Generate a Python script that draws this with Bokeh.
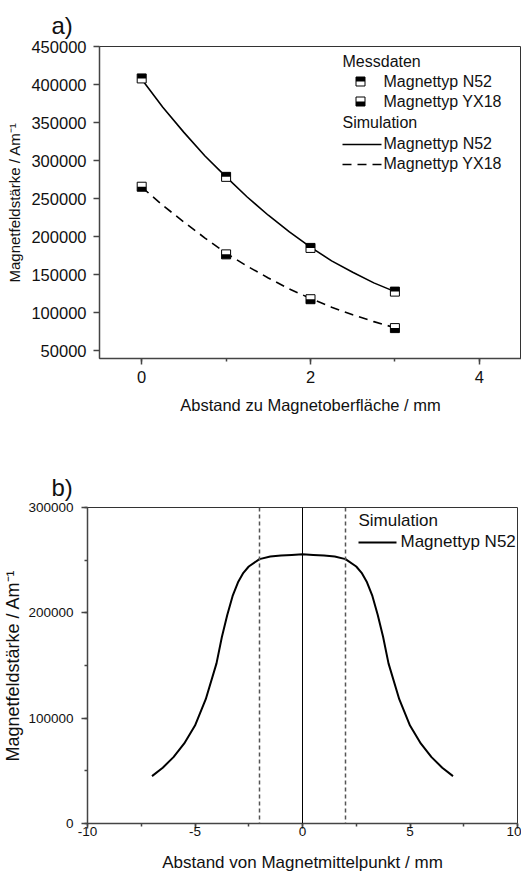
from bokeh.plotting import figure
from bokeh.models import (Range1d, SingleIntervalTicker, BasicTickFormatter, PrintfTickFormatter,
                          Label, Span, ColumnDataSource)
from bokeh.embed import file_html
from bokeh.resources import INLINE
from bokeh.transform import dodge

# ---------------- data: chart a) ----------------
a_dist = [0, 1, 2, 3]
a_n52_meas = [408000, 278500, 185000, 127500]
a_yx18_meas = [265500, 176500, 117500, 79500]

a_sim_x = [0, 0.25, 0.5, 0.75, 1, 1.25, 1.5, 1.75, 2, 2.25, 2.5, 2.75, 3]
a_sim_n52 = [407000, 370000, 337000, 306000, 278500, 252000, 228000, 206000, 186000, 168000, 153000, 139000, 127500]
a_sim_yx18 = [265000, 241000, 219000, 198000, 178000, 161000, 145500, 131000, 118500, 107000, 97000, 88000, 80000]

# ---------------- data: chart b) ----------------
b_x = [-7, -6.5, -6, -5.5, -5, -4.5, -4, -3.75, -3.5, -3.25, -3, -2.75, -2.5, -2, -1.5, -1, -0.5, 0,
       0.5, 1, 1.5, 2, 2.5, 2.75, 3, 3.25, 3.5, 3.75, 4, 4.5, 5, 5.5, 6, 6.5, 7]
b_field = [45000, 53000, 63000, 76000, 93000, 118000, 152000, 177000, 198000, 216000, 229000, 238000, 244000,
           251000, 253500, 254500, 255000, 255500, 255000, 254500, 253500, 251000, 244000, 238000, 229000,
           216000, 198000, 177000, 152000, 118000, 93000, 76000, 63000, 53000, 45000]
b_magnet_edges = [-2, 2]
b_center = [0]

legend_a_names = ["Magnettyp N52", "Magnettyp YX18"]
legend_b_names = ["Magnettyp N52"]

FONT = "Liberation Sans"
AXC = "#444444"
TXT = "#111111"


def style_axes(p, tick_size, title_size_x, title_size_y):
    p.xgrid.visible = False
    p.ygrid.visible = False
    p.outline_line_color = "#333333"
    p.outline_line_width = 1
    p.background_fill_color = "white"
    p.border_fill_color = "white"
    for ax in (p.xaxis[0], p.yaxis[0]):
        ax.axis_line_color = AXC
        ax.axis_line_width = 1.5
        ax.major_tick_line_color = AXC
        ax.minor_tick_line_color = AXC
        ax.major_tick_line_width = 1.5
        ax.minor_tick_line_width = 1.5
        ax.major_tick_in = 0
        ax.major_tick_out = 6
        ax.minor_tick_in = 0
        ax.minor_tick_out = 3
        ax.major_label_text_font = FONT
        ax.major_label_text_font_size = tick_size
        ax.major_label_text_color = TXT
        ax.axis_label_text_font = FONT
        ax.axis_label_text_font_style = "normal"
        ax.axis_label_text_color = TXT
        ax.formatter = BasicTickFormatter(use_scientific=False)
    p.xaxis[0].axis_label_text_font_size = title_size_x
    p.yaxis[0].axis_label_text_font_size = title_size_y


def half_marker(p, src, top_black, off, range_names=None):
    kw = {}
    if range_names:
        kw = dict(x_range_name=range_names[0], y_range_name=range_names[1])
    p.scatter("x", "y", source=src, marker="square", size=9, fill_color="white",
              line_color="black", line_width=1, **kw)
    p.rect(x="x", y=dodge("y", off if top_black else -off), width=9, height=4.5,
           width_units="screen", height_units="screen", source=src,
           fill_color="black", line_color=None, **kw)


def lab(p, x, y, text, size):
    p.add_layout(Label(x=x, y=y, x_range_name="lx", y_range_name="ly", text=text,
                       text_font=FONT, text_font_size=size, text_color=TXT,
                       text_baseline="middle", text_align="left"))


# ================= chart a =================
A_W, A_H = 521, 430
A_L, A_R, A_T, A_B = 99, 0, 46, 72
a_ymin, a_ymax = 39500, 450000
pa = figure(width=A_W, height=A_H, x_range=Range1d(-0.5, 4.5), y_range=Range1d(a_ymin, a_ymax),
            output_backend="svg", toolbar_location=None,
            min_border_left=A_L, min_border_right=A_R, min_border_top=A_T, min_border_bottom=A_B,
            x_axis_label="Abstand zu Magnetoberfläche / mm",
            y_axis_label="Magnetfeldstärke / Am⁻¹")
pa.title.text = "a)"
pa.title.text_font = FONT
pa.title.text_font_size = "24px"
pa.title.text_font_style = "normal"
pa.title.align = "left"
pa.title.offset = -48
pa.title.standoff = 16
pa.title.text_color = TXT
style_axes(pa, "16.5px", "16.5px", "15px")
pa.xaxis[0].ticker = SingleIntervalTicker(interval=2, num_minor_ticks=2)
pa.yaxis[0].ticker = SingleIntervalTicker(interval=50000, num_minor_ticks=0)
pa.xaxis[0].major_label_standoff = 6
pa.xaxis[0].axis_label_standoff = 10
pa.yaxis[0].major_label_standoff = 7
pa.yaxis[0].axis_label_standoff = 5

a_frame_w = A_W - A_L - A_R
a_frame_h = A_H - A_T - A_B
a_off = 2.25 * (a_ymax - a_ymin) / a_frame_h

pa.line(a_sim_x, a_sim_n52, line_color="black", line_width=1.6)
pa.line(a_sim_x, a_sim_yx18, line_color="black", line_width=1.6, line_dash="9 6")
half_marker(pa, ColumnDataSource(dict(x=a_dist, y=a_n52_meas)), True, a_off)
half_marker(pa, ColumnDataSource(dict(x=a_dist, y=a_yx18_meas)), False, a_off)

# legend (frame pixel space)
pa.extra_x_ranges = {"lx": Range1d(0, a_frame_w)}
pa.extra_y_ranges = {"ly": Range1d(0, a_frame_h)}
LA = dict(hx=243, mx=261, tx=284, line0=243, line1=282,
          y_head1=297, y_m=[277, 257], y_head2=236, y_l=[214, 194])

lab(pa, LA["hx"], LA["y_head1"], "Messdaten", "16px")
half_marker(pa, ColumnDataSource(dict(x=[LA["mx"]], y=[LA["y_m"][0]])), True, 2.25, ("lx", "ly"))
half_marker(pa, ColumnDataSource(dict(x=[LA["mx"]], y=[LA["y_m"][1]])), False, 2.25, ("lx", "ly"))
for nm, yy in zip(legend_a_names, LA["y_m"]):
    lab(pa, LA["tx"], yy, nm, "16px")
lab(pa, LA["hx"], LA["y_head2"], "Simulation", "16px")
pa.line([LA["line0"], LA["line1"]], [LA["y_l"][0]] * 2, x_range_name="lx", y_range_name="ly",
        line_color="black", line_width=1.6)
pa.line([LA["line0"], LA["line1"]], [LA["y_l"][1]] * 2, x_range_name="lx", y_range_name="ly",
        line_color="black", line_width=1.6, line_dash="9 6")
for nm, yy in zip(legend_a_names, LA["y_l"]):
    lab(pa, LA["tx"], yy + 1, nm, "16px")

# ================= chart b =================
B_W, B_H = 521, 445
B_L, B_R, B_T, B_B = 87, 4, 77, 52
pb = figure(width=B_W, height=B_H, x_range=Range1d(-10, 10), y_range=Range1d(0, 300000),
            output_backend="svg", toolbar_location=None,
            min_border_left=B_L, min_border_right=B_R, min_border_top=B_T, min_border_bottom=B_B,
            x_axis_label="Abstand von Magnetmittelpunkt / mm",
            y_axis_label="Magnetfeldstärke / Am⁻¹")
pb.title.text = "b)"
pb.title.text_font = FONT
pb.title.text_font_size = "24px"
pb.title.text_font_style = "normal"
pb.title.align = "left"
pb.title.offset = -36
pb.title.standoff = 13
pb.title.text_color = TXT
style_axes(pb, "13.5px", "17px", "18px")
pb.xaxis[0].ticker = SingleIntervalTicker(interval=5, num_minor_ticks=2)
pb.xaxis[0].formatter = PrintfTickFormatter(format="%d")
pb.yaxis[0].ticker = SingleIntervalTicker(interval=100000, num_minor_ticks=2)
pb.xaxis[0].major_tick_out = 5
pb.xaxis[0].major_label_standoff = -2
pb.xaxis[0].axis_label_standoff = 14
pb.yaxis[0].major_label_standoff = 8
pb.yaxis[0].axis_label_standoff = 2

for xe in b_magnet_edges:
    pb.add_layout(Span(location=xe, dimension="height", line_color="#555555",
                       line_width=1.5, line_dash="4 3"))
for xc in b_center:
    pb.add_layout(Span(location=xc, dimension="height", line_color="black", line_width=1))

pb.line(b_x, b_field, line_color="black", line_width=2)

b_frame_w = B_W - B_L - B_R
b_frame_h = B_H - B_T - B_B
pb.extra_x_ranges = {"lx": Range1d(0, b_frame_w)}
pb.extra_y_ranges = {"ly": Range1d(0, b_frame_h)}
LB = dict(hx=271, y_head=303, line0=271, line1=309, tx=313, y_l=281)
lab(pb, LB["hx"], LB["y_head"], "Simulation", "17px")
pb.line([LB["line0"], LB["line1"]], [LB["y_l"]] * 2, x_range_name="lx", y_range_name="ly",
        line_color="black", line_width=2)
lab(pb, LB["tx"], LB["y_l"] + 1, legend_b_names[0], "17px")

open("out.html", "w").write(file_html([pa, pb], INLINE))
